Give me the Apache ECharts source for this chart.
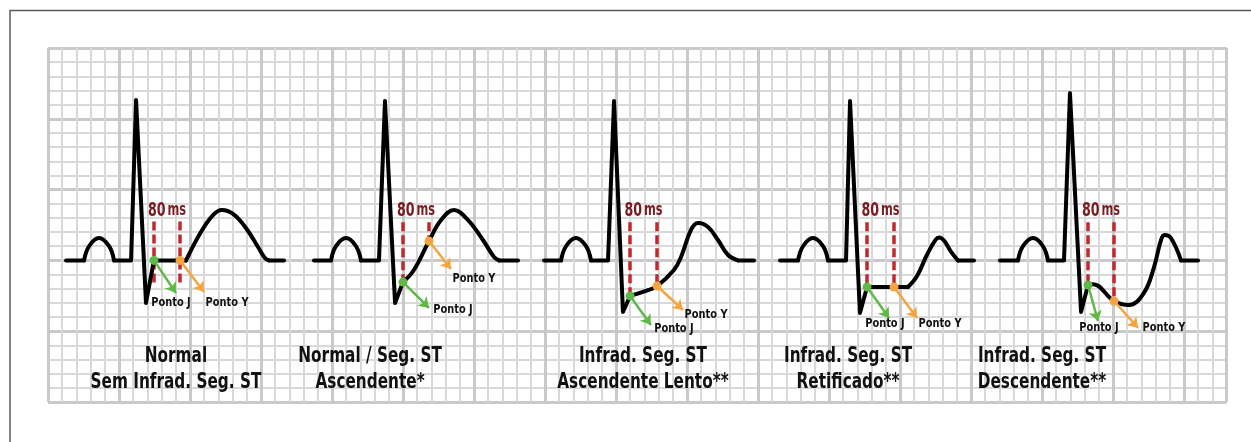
<!DOCTYPE html>
<html><head><meta charset="utf-8">
<script src="https://cdn.jsdelivr.net/npm/echarts@6/dist/echarts.min.js"></script>
<style>html,body{margin:0;padding:0;background:#fff}#c{width:1251px;height:442px}</style>
</head><body><div id="c"></div>
<script>
// ---- data (x in small-square units from the left edge of the paper, y in small-square units from the bottom) ----
const panelTitles = ['Normal\nSem Infrad. Seg. ST', 'Normal / Seg. ST\nAscendente*', 'Infrad. Seg. ST\nAscendente Lento**', 'Infrad. Seg. ST\nRetificado**', 'Infrad. Seg. ST\nDescendente**'];
const titleAnchors = [[9.01, 2.26], [22.68, 2.26], [41.9, 2.26], [56.34, 2.26], [70.0, 2.26]];

const straight1 = [[[1.27,10],[2.54,10]], [[4.65,10],[5.85,10],[6.2,21.33],[6.9,7.0],[7.46,10],[9.72,10]], [[15.56,10],[16.62,10]]];
const curved1 = [[[2.54,10],[2.89,11.0],[3.59,11.58],[4.30,11.0],[4.65,10]],
  [[9.72,10],[10.77,12.0],[11.62,13.2],[12.25,13.56],[13.03,13.28],[13.94,12.29],[14.79,10.95],[15.28,10.17],[15.56,10]]];

const straight2 = [[[18.73,10],[19.93,10]], [[22.04,10],[23.31,10],[23.73,21.26],[24.44,6.99],[25.0,8.47]], [[31.76,10],[33.10,10]]];
const curved2 = [[[19.93,10],[20.28,11.0],[20.99,11.58],[21.69,11.0],[22.04,10]],
  [[25.0,8.47],[25.77,9.32],[26.83,11.37],[27.68,12.85],[28.59,13.56],[29.58,12.85],[30.63,11.44],[31.41,10.24],[31.76,10]]];

const straight3 = [[[34.93,10],[36.13,10]], [[38.24,10],[39.44,10],[39.86,21.26],[40.49,6.36],[40.99,7.49]], [[48.59,10],[49.72,10]]];
const curved3 = [[[36.13,10],[36.48,11.0],[37.18,11.58],[37.89,11.0],[38.24,10]],
  [[40.99,7.49],[42.11,7.84],[42.89,8.19],[44.08,9.32],[44.58,10.24],[45.28,12.15],[45.77,12.64],[46.48,12.36],[47.18,11.44],[47.89,10.38],[48.59,10]]];

const straight4 = [[[51.55,10],[52.82,10]], [[54.93,10],[56.2,10],[56.48,21.26],[57.18,6.29],[57.68,8.12],[60.56,8.12]], [[64.08,10],[65.21,10]]];
const curved4 = [[[52.82,10],[53.17,11.0],[53.87,11.58],[54.58,11.0],[54.93,10]],
  [[60.56,8.12],[61.2,8.9],[61.9,10.4],[62.5,11.45],[62.75,11.62],[63.1,11.4],[63.6,10.6],[64.08,10]]];

const straight5 = [[[67.04,10],[68.31,10]], [[70.42,10],[71.55,10],[71.97,21.82],[72.75,6.36],[73.24,8.26]], [[79.79,10],[80.99,10]]];
const curved5 = [[[68.31,10],[68.66,11.0],[69.37,11.58],[70.07,11.0],[70.42,10]],
  [[73.24,8.26],[73.6,8.32],[75.07,7.13],[76.13,6.85],[77.18,7.7],[77.89,9.53],[78.38,11.44],[78.63,11.79],[79.08,11.58],[79.79,10]]];

const jPoints = [[7.46,10],[25.0,8.47],[40.99,7.49],[57.68,8.12],[73.24,8.26]];
const yPoints = [[9.30,10],[26.83,11.37],[42.89,8.19],[59.58,8.12],[75.07,7.13]];
const jArrowTips = [[9.01,7.70],[26.83,6.64],[42.46,5.44],[59.23,5.93],[73.94,5.72]];
const yArrowTips = [[10.99,7.77],[28.38,9.39],[44.72,6.50],[61.2,5.93],[76.76,5.23]];
const jLabelAt = [[8.66,6.99],[28.52,6.50],[44.08,5.15],[58.94,5.51],[74.01,5.23]];
const yLabelAt = [[12.61,6.99],[30.0,8.69],[46.34,6.14],[62.82,5.51],[78.59,5.23]];
const dashTop = [12.75, 12.7, 12.7, 12.7, 12.7];
const dashBottomJ = [8.2, 8.47, 7.49, 8.12, 8.26];
const dashBottomY = [8.2, 11.37, 8.19, 8.12, 7.13];
const intervalLabel = ['80', 'ms'];
const intervalLabelY = 13.5;
const pointNames = ['Ponto J', 'Ponto Y'];

// ---- styles ----
const FONT = '"DejaVu Sans Condensed","DejaVu Sans",sans-serif';
const GREEN = '#5fb946', ORANGE = '#f5a43f', RED = '#c1272d', MAROON = '#7a1b20';

const series = [];
const straightAll = [straight1, straight2, straight3, straight4, straight5];
const curvedAll = [curved1, curved2, curved3, curved4, curved5];
function trace(pts, smooth) {
  return { type: 'line', data: pts, smooth: smooth,
    showSymbol: false, symbol: 'none', silent: true, z: 3,
    lineStyle: { color: '#000', width: 4, cap: 'round', join: 'round' } };
}
straightAll.forEach(p => p.forEach(seg => series.push(trace(seg, false))));
curvedAll.forEach(p => p.forEach(seg => series.push(trace(seg, 0.4))));

// dashed 80 ms markers
const dashData = [];
jPoints.forEach((p, i) => {
  dashData.push({ coords: [[p[0], dashTop[i]], [p[0], dashBottomJ[i]]] });
  dashData.push({ coords: [[yPoints[i][0], dashTop[i]], [yPoints[i][0], dashBottomY[i]]] });
});
series.push({ type: 'lines', coordinateSystem: 'cartesian2d', data: dashData, z: 2, silent: true,
  lineStyle: { color: RED, width: 3.5, type: [9, 4], opacity: 1 } });

// arrows
function arrows(from, to, color) {
  return { type: 'lines', coordinateSystem: 'cartesian2d', z: 4, silent: true,
    data: from.map((p, i) => ({ coords: [p, to[i]] })),
    symbol: ['none', 'arrow'], symbolSize: 10,
    lineStyle: { color: color, width: 2.5, opacity: 1 } };
}
series.push(arrows(jPoints, jArrowTips, GREEN));
series.push(arrows(yPoints, yArrowTips, ORANGE));

// dots
series.push({ type: 'scatter', data: jPoints, symbolSize: 9, z: 5, silent: true, itemStyle: { color: GREEN, opacity: 1 } });
series.push({ type: 'scatter', data: yPoints, symbolSize: 9, z: 5, silent: true, itemStyle: { color: ORANGE, opacity: 1 } });

const hidden = { axisLine: { show: false }, axisTick: { show: false }, axisLabel: { show: false } };
const option = {
  animation: false,
  backgroundColor: '#fff',
  grid: { left: 48, right: 24.4, top: 48, bottom: 40, outerBoundsMode: 'none', containLabel: false },
  xAxis: [
    Object.assign({ type: 'value', min: 0, max: 83, interval: 1, splitLine: { show: true, lineStyle: { color: '#d9d9d9', width: 2 } } }, hidden),
    Object.assign({ type: 'value', min: 0, max: 83, interval: 5, splitLine: { show: true, lineStyle: { color: '#c9c9c9', width: 3 } } }, hidden)
  ],
  yAxis: [
    Object.assign({ type: 'value', min: 0, max: 25, interval: 1, splitLine: { show: true, lineStyle: { color: '#d9d9d9', width: 2 } } }, hidden),
    Object.assign({ type: 'value', min: 0, max: 25, interval: 5, splitLine: { show: true, lineStyle: { color: '#c9c9c9', width: 3 } } }, hidden)
  ],
  series: series
};
const chart = echarts.init(document.getElementById('c'), null, { renderer: 'canvas' });
chart.setOption(option);

// ---- text, placed through the chart's own coordinate conversion ----
const toPx = p => chart.convertToPixel({ xAxisIndex: 0, yAxisIndex: 0 }, p);
const elements = [{ type: 'polyline', silent: true, z: 10,
  shape: { points: [[10, 442], [10, 10.5], [1251, 10.5]] },
  style: { stroke: '#5a5a5a', lineWidth: 1.5, fill: null } }];
function addText(pt, text, style, scaleX) {
  const px = toPx(pt);
  elements.push({ type: 'text', x: px[0], y: px[1], scaleX: scaleX, scaleY: 1, silent: true, z: 20,
    style: Object.assign({ text: text, align: 'center', verticalAlign: 'middle', fontFamily: FONT }, style) });
}
jLabelAt.forEach(p => addText(p, pointNames[0], { fontSize: 13, fontWeight: 'bold', fill: '#111' }, 0.84));
yLabelAt.forEach(p => addText(p, pointNames[1], { fontSize: 13, fontWeight: 'bold', fill: '#111' }, 0.84));
jPoints.forEach((p, i) => addText([(p[0] + yPoints[i][0]) / 2, intervalLabelY],
  '{a|' + intervalLabel[0] + '}{s| }{b|' + intervalLabel[1] + '}',
  { rich: {
    a: { fontFamily: FONT, fontSize: 19, fontWeight: 'bold', fill: MAROON },
    s: { fontFamily: FONT, fontSize: 9, fill: MAROON },
    b: { fontFamily: FONT, fontSize: 17, fontWeight: 'bold', fill: MAROON } } }, 0.74));
titleAnchors.forEach((p, i) => addText(p, panelTitles[i],
  { fontSize: 21, fontWeight: 'bold', fill: '#111', lineHeight: 26 }, 0.81));
chart.setOption({ graphic: elements });
</script></body></html>
